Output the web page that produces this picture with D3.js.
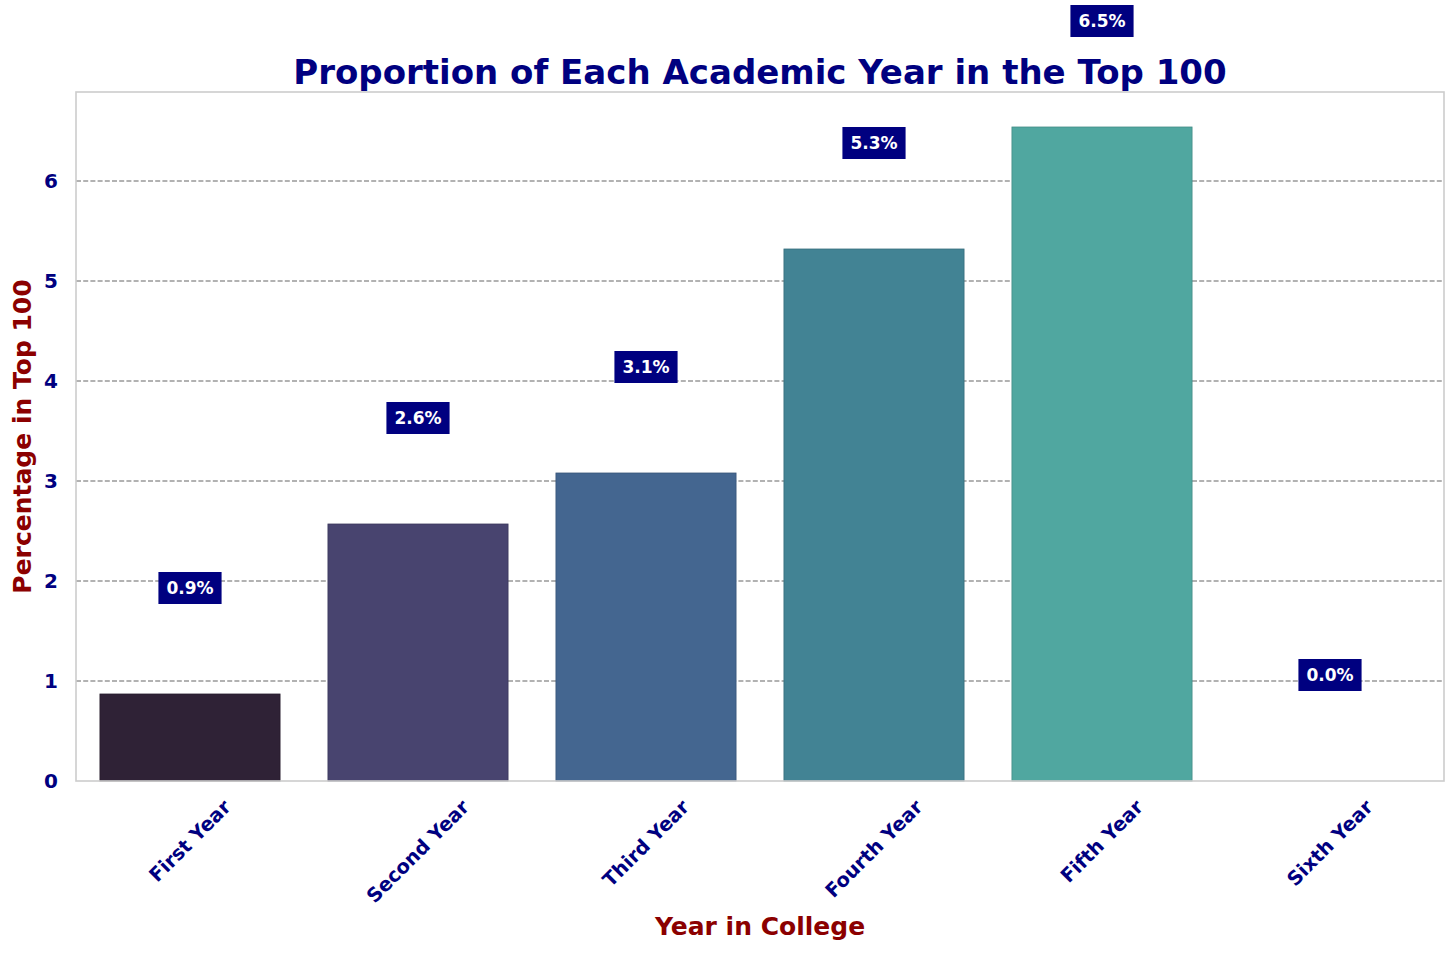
<!DOCTYPE html>
<html>
<head>
<meta charset="utf-8">
<script src="https://cdn.jsdelivr.net/npm/d3@7"></script>
<style>
  html, body { margin: 0; padding: 0; background: #fff; }
  svg text { font-family: "DejaVu Sans", sans-serif; font-weight: bold; }
</style>
</head>
<body>
<svg id="chart" width="1456" height="957"></svg>
<script>
const categories = ["First Year", "Second Year", "Third Year", "Fourth Year", "Fifth Year", "Sixth Year"];
const values = [0.87, 2.57, 3.08, 5.32, 6.54, 0.0];
const barColors = ["#2f2236", "#48446f", "#446690", "#428394", "#50a7a0", "#6cc4a8"];
const yTicks = [0, 1, 2, 3, 4, 5, 6];
const yMax = 6.89;
const labelOffset = 1.06;
const titleText = "Proportion of Each Academic Year in the Top 100";
const xLabelText = "Year in College";
const yLabelText = "Percentage in Top 100";

const svg = d3.select("#chart");
const m = { left: 76, right: 1444, top: 92, bottom: 781 };

const x = d3.scaleBand().domain(categories).range([m.left, m.right])
  .paddingInner(0.21).paddingOuter(0.105);
const y = d3.scaleLinear().domain([0, yMax]).range([m.bottom, m.top]);

// grid
svg.append("g").selectAll("line").data(yTicks.filter(d => d > 0)).join("line")
  .attr("x1", m.left).attr("x2", m.right)
  .attr("y1", d => y(d)).attr("y2", d => y(d))
  .attr("stroke", "#999999").attr("stroke-width", 1.3)
  .attr("stroke-dasharray", "5,2.2");

// bars
svg.append("g").selectAll("rect").data(categories).join("rect")
  .attr("x", d => x(d))
  .attr("width", x.bandwidth())
  .attr("y", (d, i) => y(values[i]))
  .attr("height", (d, i) => y(0) - y(values[i]))
  .attr("fill", (d, i) => barColors[i])
  .attr("stroke", (d, i) => values[i] > 0 ? d3.color(barColors[i]).darker(0.5) : "none")
  .attr("stroke-width", 0.8);

// frame
svg.append("rect").attr("x", m.left).attr("y", m.top)
  .attr("width", m.right - m.left).attr("height", m.bottom - m.top)
  .attr("fill", "none").attr("stroke", "#cccccc").attr("stroke-width", 1.6);

// y ticks via axis
const yAxis = svg.append("g").attr("transform", `translate(${m.left},0)`)
  .call(d3.axisLeft(y).tickValues(yTicks).tickFormat(d3.format("d")).tickSize(0).tickPadding(18));
yAxis.select(".domain").remove();
yAxis.selectAll("text").attr("fill", "#000080").style("font-size", "20px")
  .style("font-family", "DejaVu Sans").style("font-weight", "bold");

// x tick labels rotated
const xl = svg.append("g");
categories.forEach(c => {
  const t = xl.append("text").text(c)
    .attr("fill", "#000080").style("font-size", "19.5px")
    .attr("text-anchor", "middle").attr("dominant-baseline", "central");
  const w = t.node().getComputedTextLength();
  const h = 19;
  const bh = (w + h) * Math.SQRT1_2;
  const cx = x(c) + x.bandwidth() / 2;
  const cy = 797 + bh / 2;
  t.attr("transform", `translate(${cx},${cy}) rotate(-45)`);
});

// value labels
const lg = svg.append("g");
categories.forEach((c, i) => {
  const cx = x(c) + x.bandwidth() / 2;
  const cy = y(values[i] + labelOffset);
  const g = lg.append("g");
  const r = g.append("rect").attr("fill", "#000080");
  const t = g.append("text").text(values[i].toFixed(1) + "%")
    .attr("x", cx).attr("y", cy)
    .attr("text-anchor", "middle").attr("dominant-baseline", "central")
    .attr("fill", "#ffffff").style("font-size", "17px");
  const w = t.node().getComputedTextLength();
  r.attr("x", cx - w / 2 - 8).attr("y", cy - 16).attr("width", w + 16).attr("height", 32);
});

// title
svg.append("text").text(titleText).attr("x", (m.left + m.right) / 2).attr("y", 84)
  .attr("text-anchor", "middle").attr("fill", "#000080").style("font-size", "34px");

// axis labels
svg.append("text").text(xLabelText).attr("x", (m.left + m.right) / 2).attr("y", 935)
  .attr("text-anchor", "middle").attr("fill", "#8b0000").style("font-size", "25px");
svg.append("text").text(yLabelText)
  .attr("transform", `translate(31,${(m.top + m.bottom) / 2}) rotate(-90)`)
  .attr("text-anchor", "middle").attr("fill", "#8b0000").style("font-size", "25px");
</script>
</body>
</html>
